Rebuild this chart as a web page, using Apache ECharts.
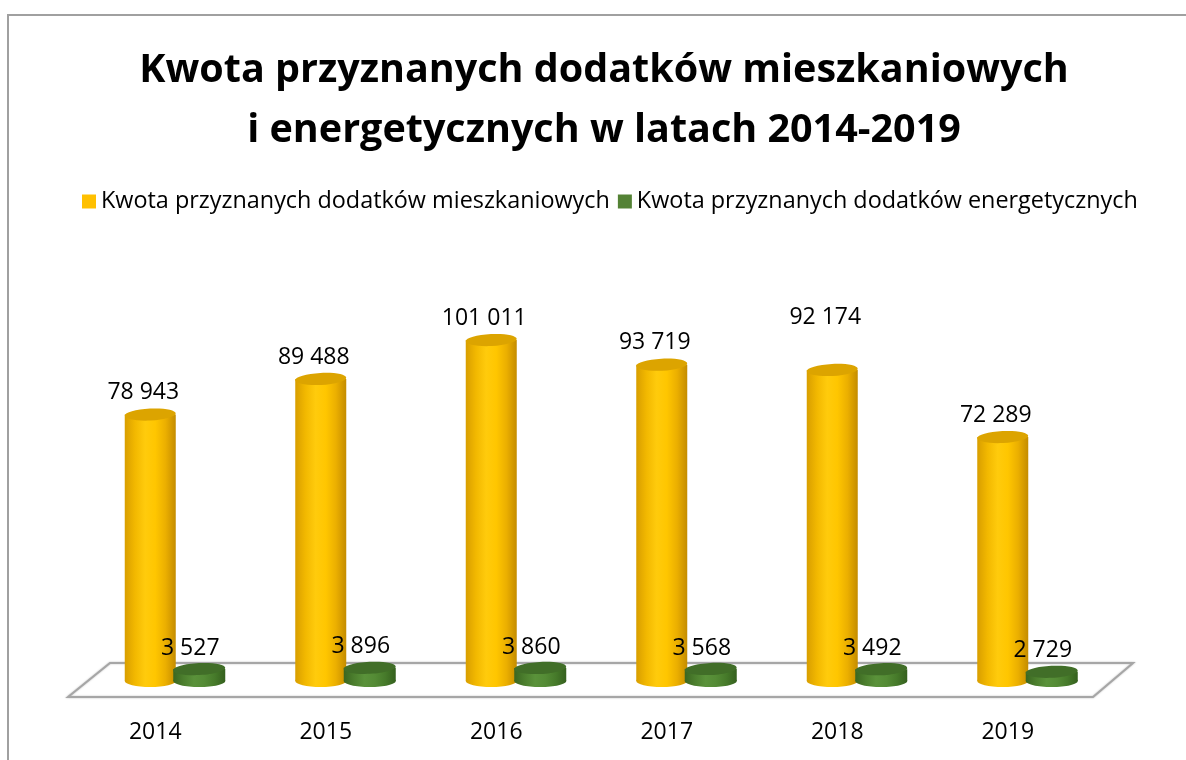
<!DOCTYPE html>
<html>
<head>
<meta charset="utf-8">
<script src="https://cdn.jsdelivr.net/npm/echarts@6/dist/echarts.min.js"></script>
<style>
html, body { margin: 0; padding: 0; background: #fff; }
#chart { width: 1186px; height: 760px; }
</style>
</head>
<body>
<div id="chart"></div>
<script>
var years = ['2014', '2015', '2016', '2017', '2018', '2019'];
var housing = [78943, 89488, 101011, 93719, 92174, 72289];
var energy = [3527, 3896, 3860, 3568, 3492, 2729];
var seriesNames = ['Kwota przyznanych dodatków mieszkaniowych', 'Kwota przyznanych dodatków energetycznych'];
var titleText = 'Kwota przyznanych dodatków mieszkaniowych\ni energetycznych w latach 2014-2019';

var FONT = '"Open Sans", sans-serif';

function fmt(v) {
    return String(v).replace(/\B(?=(\d{3})+(?!\d))/g, ' ');
}

function grad(stops) {
    return new echarts.graphic.LinearGradient(0, 0, 1, 0, stops.map(function (c, i) {
        return { offset: i / (stops.length - 1), color: c };
    }));
}

// one cylinder per data item, placed from the axis scales
function cylinder(opt) {
    return function (params, api) {
        var i = api.value(0);
        var base = api.coord([i, 0]);
        var top = api.coord([i, api.value(1)]);
        var cx = base[0] + opt.offset;
        var rx = opt.width / 2;
        var lift = opt.lift + (opt.extraLift[params.dataIndex] || 0);
        return {
            type: 'group',
            children: [
                { type: 'ellipse', shape: { cx: cx, cy: base[1], rx: rx, ry: opt.ry }, style: { fill: opt.side } },
                { type: 'rect', shape: { x: cx - rx, y: top[1], width: rx * 2, height: base[1] - top[1] }, style: { fill: opt.side } },
                { type: 'ellipse', shape: { cx: cx, cy: top[1], rx: rx, ry: opt.ry }, rotation: opt.tilt, originX: cx, originY: top[1], style: { fill: opt.top } },
                { type: 'text', x: cx + opt.labelDx, y: top[1] - lift, style: { text: fmt(api.value(1)), font: '23px ' + FONT, fill: '#000', align: 'center', verticalAlign: 'middle' } }
            ]
        };
    };
}

var chart = echarts.init(document.getElementById('chart'));

chart.setOption({
    animation: false,
    legend: {
        data: seriesNames,
        left: 77,
        top: 185,
        icon: 'rect',
        itemWidth: 14,
        itemHeight: 14,
        itemGap: 8,
        textStyle: { fontFamily: FONT, fontSize: 23.4, color: '#000' }
    },
    graphic: [
        { type: 'rect', shape: { x: 8, y: 15, width: 1200, height: 800 }, style: { fill: 'none', stroke: '#A0A0A0', lineWidth: 2 }, silent: true },
        { type: 'text', x: 604, y: 41, silent: true, style: { text: titleText, font: 'bold 39.5px ' + FONT, fill: '#000', align: 'center', verticalAlign: 'top', lineHeight: 60 } }
    ],
    grid: { left: 70, right: 93, top: 276, bottom: 79 },
    xAxis: {
        type: 'category',
        data: years,
        axisLine: { show: false },
        axisTick: { show: false },
        axisLabel: { fontFamily: FONT, fontSize: 23, color: '#000', margin: 40 }
    },
    yAxis: { type: 'value', min: 0, max: 120000, show: false },
    series: [
        {
            // floor of the 3d plot area
            type: 'custom',
            silent: true,
            data: [[0]],
            renderItem: function (params, api) {
                var cs = params.coordSys;
                var gb = cs.y + cs.height;
                return {
                    type: 'polygon',
                    shape: { points: [[cs.x - 2, gb + 16], [cs.x + 40, gb - 18], [cs.x + cs.width + 40, gb - 18], [cs.x + cs.width, gb + 16]] },
                    style: { fill: '#fff', stroke: '#A6A6A6', lineWidth: 2, shadowBlur: 2, shadowColor: 'rgba(0,0,0,0.25)' }
                };
            }
        },
        {
            name: seriesNames[0],
            type: 'custom',
            itemStyle: { color: '#FFC000' },
            encode: { x: 0, y: 1 },
            data: housing.map(function (v, i) { return [i, v]; }),
            renderItem: cylinder({
                offset: -5, width: 51, ry: 6, tilt: 0.05, lift: 22, labelDx: -7, extraLift: { 4: 30 },
                side: grad(['#D89E00', '#F2B800', '#FFCB0C', '#FFC600', '#EBAF00', '#C48C00']),
                top: '#DCA400'
            })
        },
        {
            name: seriesNames[1],
            type: 'custom',
            itemStyle: { color: '#548235' },
            encode: { x: 0, y: 1 },
            data: energy.map(function (v, i) { return [i, v]; }),
            renderItem: cylinder({
                offset: 44, width: 52, ry: 6, tilt: 0.05, lift: 21, labelDx: -9, extraLift: {},
                side: grad(['#3A6620', '#4C7F2E', '#5A923A', '#548B35', '#467A2A', '#35601E']),
                top: '#416E28'
            })
        }
    ]
});

window.addEventListener('resize', function () {
    chart.resize();
});
</script>
</body>
</html>
